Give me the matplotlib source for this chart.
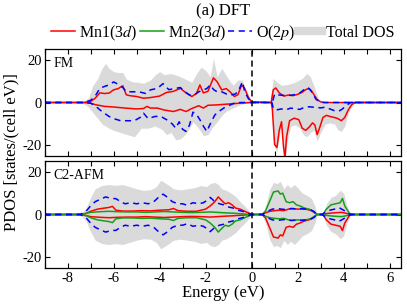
import matplotlib
matplotlib.use("Agg")
import matplotlib.pyplot as plt
from matplotlib.lines import Line2D
from matplotlib.ticker import MultipleLocator
import numpy as np

plt.rcParams["font.family"] = ["Liberation Serif", "DejaVu Serif"]
plt.rcParams["mathtext.fontset"] = "stix"
plt.rcParams["axes.unicode_minus"] = False

# (energy eV, PDOS) pairs, spin up > 0, spin down < 0
# ---- FM ----
fm_mn1_up = [(-9, 0), (-7.3, 0), (-7.0, 0.5), (-6.8, 2), (-6.6, 4.5), (-6.4, 4.2), (-6.2, 4.4),
             (-6.0, 5.9), (-5.8, 6.5), (-5.6, 7.8), (-5.45, 3.6), (-5.3, 3.2), (-5.0, 2.8),
             (-4.7, 2.0), (-4.4, 2.3), (-4.0, 3.0), (-3.7, 4.7), (-3.4, 5.2), (-3.1, 6.6),
             (-2.85, 4.5), (-2.6, 2.8), (-2.4, 4.2), (-2.25, 8.2), (-2.1, 4.5), (-1.9, 5.2),
             (-1.66, 11.5), (-1.5, 9.7), (-1.3, 5.9), (-1.1, 6.5), (-0.94, 5.0), (-0.75, 2.8),
             (-0.6, 3.6), (-0.43, 8.2), (-0.3, 6.6), (-0.15, 2.5), (0.0, 0.3), (0.85, 0),
             (0.94, 5.9), (1.05, 6.8), (1.2, 4.5), (1.4, 3.0), (1.6, 3.5), (1.8, 3.2), (2.0, 3.8),
             (2.2, 4.8), (2.34, 5.9), (2.45, 6.5), (2.6, 5.5), (2.84, 1.5), (3.0, 0.3), (3.2, 0),
             (6.5, 0)]
fm_mn1_dn = [(-9, 0), (-7.3, 0), (-7.0, -0.3), (-6.8, -1), (-6.4, -1.8), (-6.0, -2.1), (-5.5, -2.6),
             (-5.0, -3), (-4.7, -2.8), (-4.55, -1.8), (-4.4, -2.6), (-4.1, -2.6), (-3.8, -3.5),
             (-3.4, -4.2), (-3.1, -3.2), (-2.85, -4.2), (-2.6, -2.8), (-2.3, -1.5), (-2.1, -2.6),
             (-1.9, -1.3), (-1.5, -1.1), (-1.0, -0.7), (-0.5, -0.3), (0, 0), (0.85, 0), (0.9, -3),
             (1.0, -19.7), (1.1, -21), (1.2, -13), (1.3, -9), (1.38, -20), (1.45, -26), (1.52, -16),
             (1.65, -8.5), (1.85, -7.3), (2.05, -8), (2.2, -12), (2.35, -13), (2.5, -11.5),
             (2.65, -9.5), (2.75, -10.5), (2.85, -15), (2.95, -12), (3.1, -7), (3.25, -6),
             (3.4, -6.5), (3.6, -7), (3.75, -7.5), (3.9, -8.5), (4.05, -7), (4.2, -3.5),
             (4.35, -1), (4.5, 0), (6.5, 0)]
fm_o_up = [(-9, 0), (-7.3, 0), (-7.0, 1), (-6.8, 3), (-6.6, 6.6), (-6.4, 7.5), (-6.2, 8.2), (-6.0, 9.6),
           (-5.8, 8.5), (-5.6, 7.0), (-5.45, 5.0), (-5.2, 5.0), (-4.9, 5.0), (-4.6, 4.2), (-4.4, 5.9),
           (-4.1, 6.6), (-3.85, 8.8), (-3.6, 6.0), (-3.3, 6.6), (-3.1, 7.0), (-2.9, 5.0), (-2.7, 3.5),
           (-2.5, 3.5), (-2.3, 5.0), (-2.1, 5.9), (-1.95, 6.5), (-1.8, 8.2), (-1.65, 6.0), (-1.5, 5.0),
           (-1.3, 5.0), (-1.1, 4.0), (-0.9, 3.5), (-0.7, 4.0), (-0.55, 6.0), (-0.4, 9.7), (-0.3, 5.0),
           (-0.15, 2.0), (0, 0), (0.9, 0), (1.0, 4.0), (1.2, 3.5), (1.5, 3.2), (1.8, 3.5), (2.1, 4.5),
           (2.35, 6.6), (2.45, 7.0), (2.55, 6.0), (2.8, 1.5), (3.0, 0), (6.5, 0)]
fm_o_dn = [(-9, 0), (-7.3, 0), (-7.0, -0.3), (-6.8, -1.5), (-6.6, -3.4), (-6.4, -5), (-6.2, -6.5),
           (-6.0, -7.5), (-5.7, -8.5), (-5.4, -8.5), (-5.1, -8.5), (-4.85, -7), (-4.7, -5),
           (-4.5, -7.5), (-4.2, -6.5), (-3.95, -6.5), (-3.7, -8), (-3.45, -10), (-3.3, -12),
           (-3.15, -9), (-3.0, -12.5), (-2.85, -13.5), (-2.7, -10.5), (-2.55, -4.5), (-2.4, -5.5),
           (-2.25, -8), (-2.1, -11), (-1.95, -13.5), (-1.8, -10), (-1.6, -5.8), (-1.4, -4),
           (-1.2, -2.5), (-1.0, -1.5), (-0.8, -0.5), (-0.6, 0), (0.88, 0), (0.95, -3), (1.1, -3.4),
           (1.3, -3), (1.5, -3.4), (1.7, -2.6), (1.9, -3), (2.1, -3.2), (2.3, -2.2), (2.5, -2),
           (2.7, -2.2), (2.9, -2.4), (3.0, -2.5), (3.2, -2.2), (3.4, -3), (3.6, -3.8), (3.8, -4),
           (3.95, -3), (4.1, -1.5), (4.3, 0), (6.5, 0)]
fm_tot_up = [(-9, 0), (-7.4, 0), (-7.1, 2), (-6.9, 8), (-6.7, 11), (-6.5, 16), (-6.35, 18.3), (-6.2, 16),
             (-6.0, 14.4), (-5.8, 14), (-5.6, 14), (-5.45, 11), (-5.2, 9.7), (-5.0, 9.5), (-4.7, 9),
             (-4.4, 10.5), (-4.2, 12.8), (-4.0, 14.4), (-3.8, 13), (-3.5, 13.5), (-3.2, 12.5),
             (-2.9, 11), (-2.6, 9.5), (-2.4, 13.5), (-2.2, 16.5), (-2.0, 15), (-1.8, 12), (-1.66, 20.6),
             (-1.5, 12), (-1.3, 16), (-1.1, 12.5), (-0.95, 10), (-0.8, 8), (-0.6, 10.5), (-0.4, 10.5),
             (-0.3, 7), (-0.15, 4), (0, 0), (0.8, 0), (0.94, 11.3), (1.05, 10), (1.3, 8), (1.6, 8.5),
             (1.9, 9.5), (2.2, 11.3), (2.4, 13.6), (2.55, 12), (2.7, 8), (2.9, 2), (3.05, 0), (6.5, 0)]
fm_tot_dn = [(-9, 0), (-7.4, 0), (-7.1, -2), (-6.8, -6), (-6.5, -10), (-6.2, -12), (-6.0, -13),
             (-5.7, -14), (-5.4, -15), (-5.1, -16), (-4.8, -12), (-4.5, -12), (-4.2, -11),
             (-3.9, -12.5), (-3.7, -15), (-3.5, -14), (-3.3, -17.4), (-3.1, -17), (-2.9, -15),
             (-2.7, -12), (-2.55, -9), (-2.3, -12), (-2.1, -15.5), (-1.9, -15), (-1.7, -11.5),
             (-1.5, -9), (-1.3, -6), (-1.1, -4), (-0.9, -3), (-0.7, -2), (-0.5, -1), (-0.3, -0.5),
             (0, 0), (0.8, 0), (0.9, -5), (1.0, -21), (1.1, -23), (1.2, -16), (1.3, -11), (1.38, -23),
             (1.45, -27), (1.55, -18), (1.7, -11), (1.9, -10.5), (2.1, -12), (2.25, -15), (2.4, -16),
             (2.55, -14), (2.7, -13), (2.85, -18), (3.0, -14), (3.2, -10), (3.4, -9.5), (3.6, -10),
             (3.75, -12.7), (3.9, -13.5), (4.05, -11), (4.2, -5), (4.4, -1), (4.55, 0), (6.5, 0)]

# ---- C2-AFM (spin down is the mirror image, Mn1 <-> Mn2) ----
afm_mn1_up = [(-9, 0), (-7.45, 0), (-7.2, 0.5), (-7.0, 1.5), (-6.7, 2.5), (-6.4, 3), (-6.2, 3.3),
              (-6.05, 3.8), (-5.9, 2), (-5.6, 1.6), (-5.2, 1.6), (-4.8, 1.8), (-4.4, 1.7), (-4.0, 2),
              (-3.6, 2.2), (-3.4, 2.8), (-3.2, 1.8), (-2.8, 1.5), (-2.4, 1.5), (-2.0, 2.5), (-1.8, 4),
              (-1.6, 6), (-1.45, 8.2), (-1.3, 6.5), (-1.15, 5), (-1.0, 5.5), (-0.85, 4.5), (-0.7, 3),
              (-0.5, 2.5), (-0.3, 1.5), (-0.15, 0.8), (0, 0), (0.45, 0), (0.6, 0.8), (0.8, 1.5),
              (1.0, 1.8), (1.2, 2), (1.4, 1.8), (1.6, 2.5), (1.8, 2.8), (2.0, 2.5), (2.2, 2.6),
              (2.4, 2.4), (2.6, 1.8), (2.85, 0), (3.1, 0), (3.3, 0.5), (3.6, 0.8), (3.9, 1),
              (4.1, 0.6), (4.3, 0), (6.5, 0)]
afm_mn2_up = [(-9, 0), (-7.45, 0), (-7.2, 0.5), (-7.0, 1), (-6.6, 1.3), (-6.2, 1.5), (-5.8, 1.3),
              (-5.4, 1.2), (-5.0, 1.2), (-4.6, 1.0), (-4.2, 1.2), (-3.8, 1.4), (-3.4, 1.2), (-3.0, 1.0),
              (-2.6, 0.9), (-2.2, 1.0), (-1.8, 1.2), (-1.5, 1.0), (-1.2, 0.8), (-0.8, 0.6), (-0.4, 0.3),
              (0, 0), (0.45, 0), (0.6, 1.5), (0.8, 6.6), (0.95, 10.5), (1.15, 11), (1.25, 9.5),
              (1.35, 10), (1.5, 6), (1.65, 5.5), (1.8, 6), (1.95, 4.5), (2.1, 4), (2.3, 3), (2.5, 2.5),
              (2.7, 1.2), (2.85, 0), (3.1, 0), (3.25, 2.5), (3.45, 4.5), (3.65, 5), (3.85, 5.5),
              (3.95, 7.5), (4.05, 4), (4.25, 0.5), (4.35, 0), (6.5, 0)]
afm_o_up = [(-9, 0), (-7.45, 0), (-7.2, 1.5), (-7.0, 4), (-6.8, 6), (-6.6, 7), (-6.35, 8.2), (-6.1, 7.5),
            (-5.9, 7.4), (-5.7, 6), (-5.5, 5), (-5.25, 5.5), (-5.0, 5), (-4.75, 5.5), (-4.5, 5),
            (-4.25, 6), (-4.0, 8.5), (-3.85, 9.5), (-3.65, 8), (-3.45, 6), (-3.2, 5), (-3.0, 5),
            (-2.8, 4.3), (-2.55, 5.5), (-2.3, 5), (-2.1, 5.5), (-1.95, 6.5), (-1.8, 8), (-1.6, 6),
            (-1.4, 5), (-1.2, 4.5), (-1.0, 3.5), (-0.8, 3), (-0.6, 2), (-0.4, 1.5), (-0.2, 0.8), (0, 0),
            (0.45, 0), (0.6, 0.8), (0.75, 1.8), (0.9, 2.5), (1.1, 2.8), (1.3, 2.5), (1.5, 2.3),
            (1.7, 2.8), (1.9, 2.6), (2.1, 2.8), (2.3, 2.6), (2.5, 2.5), (2.7, 1.5), (2.85, 0),
            (3.05, 0), (3.2, 1), (3.4, 2), (3.6, 2.5), (3.8, 3.2), (4.0, 2), (4.2, 0.5), (4.35, 0),
            (6.5, 0)]
afm_tot_up = [(-9, 0), (-7.45, 0), (-7.2, 3), (-7.0, 8), (-6.8, 12), (-6.5, 13.6), (-6.2, 14),
              (-5.9, 13.6), (-5.6, 14), (-5.3, 13), (-5.0, 12), (-4.7, 11.3), (-4.4, 11.5),
              (-4.15, 13), (-3.95, 16), (-3.8, 15), (-3.6, 13.6), (-3.4, 12), (-3.1, 11.5), (-2.8, 12),
              (-2.5, 12.5), (-2.2, 13.5), (-1.95, 13), (-1.8, 14.5), (-1.6, 15), (-1.45, 14),
              (-1.3, 12), (-1.1, 11.3), (-0.9, 10), (-0.7, 8.5), (-0.5, 6), (-0.3, 4), (-0.1, 1.5),
              (0, 0), (0.45, 0), (0.6, 4), (0.8, 12), (0.95, 15), (1.1, 14.4), (1.25, 15.5), (1.4, 12),
              (1.55, 14), (1.7, 12.5), (1.85, 14), (2.0, 12.5), (2.2, 10), (2.4, 9), (2.6, 7.5),
              (2.75, 4), (2.85, 0), (3.1, 0), (3.25, 5), (3.45, 8), (3.65, 9), (3.85, 11.3), (4.0, 10),
              (4.15, 4), (4.3, 0), (6.5, 0)]

RED = "#ff0000"
GREEN = "#15a015"
BLUE = "#0000ff"
GRAY = "#dadada"


def xy(pairs, sign=1):
    a = np.array(pairs, dtype=float)
    return a[:, 0], sign * a[:, 1]


def fill(ax, pairs, sign=1):
    e, v = xy(pairs, sign)
    ax.fill_between(e, 0, v, color=GRAY, lw=0)


def line(ax, pairs, color, sign=1, dashed=False):
    e, v = xy(pairs, sign)
    ls = (0, (4, 3)) if dashed else "-"
    return ax.plot(e, v, color=color, lw=1.1, ls=ls)[0]


fig = plt.figure(figsize=(4.07, 3.06), dpi=100)
ax1 = fig.add_axes([0.1096, 0.490, 0.876, 0.350])
ax2 = fig.add_axes([0.1096, 0.124, 0.876, 0.350])

# FM panel
fill(ax1, fm_tot_up)
fill(ax1, fm_tot_dn)
h_mn1 = line(ax1, fm_mn1_up, RED)
line(ax1, fm_mn1_dn, RED)
h_o = line(ax1, fm_o_up, BLUE, dashed=True)
line(ax1, fm_o_dn, BLUE, dashed=True)

# C2-AFM panel
fill(ax2, afm_tot_up)
fill(ax2, afm_tot_up, -1)
line(ax2, afm_mn1_up, RED)
line(ax2, afm_mn2_up, RED, -1)
h_mn2 = line(ax2, afm_mn2_up, GREEN)
line(ax2, afm_mn1_up, GREEN, -1)
line(ax2, afm_o_up, BLUE, dashed=True)
line(ax2, afm_o_up, BLUE, -1, dashed=True)

for ax, name in ((ax1, "FM"), (ax2, "C2-AFM")):
    ax.axvline(0, color="black", lw=1.1, ls=(0, (4, 2.5)))
    ax.set_xlim(-9, 6.5)
    ax.set_ylim(-25, 25)
    ax.set_yticks([-20, 0, 20])
    ax.xaxis.set_major_locator(MultipleLocator(2))
    ax.xaxis.set_minor_locator(MultipleLocator(1))
    ax.tick_params(which="both", direction="in", top=True, right=True,
                   length=3.5, width=0.8, labelsize=10.5)
    ax.tick_params(axis="y", pad=2)
    ax.tick_params(axis="x", pad=3)
    for s in ax.spines.values():
        s.set_linewidth(0.9)
    ax.text(0.025, 0.86, name, transform=ax.transAxes, fontsize=10, va="center", ha="left")

ax1.tick_params(axis="x", labelbottom=False)
ax2.set_xlabel("Energy (eV)", fontsize=12, labelpad=0)

fig.text(0.029, 0.502, "PDOS [states/(cell eV)]", rotation=90, fontsize=12,
         ha="center", va="center")
fig.text(0.548, 0.962, "(a) DFT", fontsize=12, ha="center", va="center")

h_tot = Line2D([], [], color=GRAY, lw=6)
fig.legend([h_mn1, h_mn2, h_o, h_tot],
           ["Mn1(3$d$)", "Mn2(3$d$)", "O(2$p$)", "Total DOS"],
           loc="center", bbox_to_anchor=(0.548, 0.892), ncol=4, frameon=False,
           fontsize=11.5, handlelength=1.5, handletextpad=0.25, columnspacing=0.15,
           borderpad=0, borderaxespad=0)

fig.savefig("out.png", dpi=100)
